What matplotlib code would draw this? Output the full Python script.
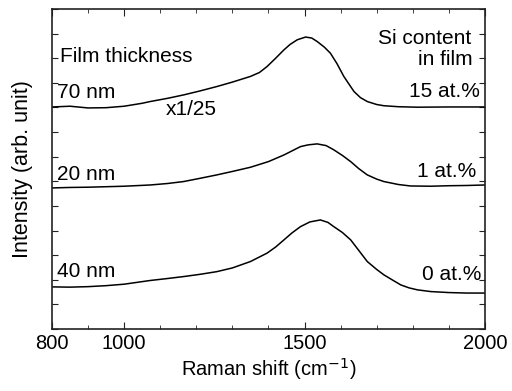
import numpy as np
import matplotlib.pyplot as plt
from matplotlib.ticker import MultipleLocator

plt.rcParams['font.family'] = ['Liberation Sans', 'DejaVu Sans']

# spectra (offset already included)
x_70 = [800, 850, 900, 950, 1000, 1050, 1072, 1120, 1165, 1210, 1257, 1300, 1350, 1375, 1396,
        1420, 1443, 1460, 1480, 1503, 1520, 1535, 1555, 1572, 1590, 1609, 1637, 1655, 1674,
        1700, 1720, 1760, 1813, 1900, 2000]
y_70 = [9.02, 9.05, 8.98, 8.99, 9.05, 9.17, 9.24, 9.37, 9.51, 9.67, 9.85, 10.03, 10.26, 10.42, 10.66,
        11.0, 11.34, 11.56, 11.75, 11.86, 11.82, 11.68, 11.45, 11.2, 10.78, 10.26, 9.65, 9.4, 9.24,
        9.12, 9.07, 9.03, 9.01, 9.02, 9.02]

x_20 = [800, 850, 900, 950, 1000, 1072, 1120, 1165, 1210, 1257, 1300, 1350, 1400, 1443,
        1470, 1489, 1510, 1535, 1560, 1581, 1605, 1628, 1650, 1674, 1700, 1720, 1760, 1794,
        1850, 1900, 1950, 2000]
y_20 = [5.73, 5.75, 5.76, 5.78, 5.8, 5.85, 5.91, 5.99, 6.12, 6.26, 6.4, 6.57, 6.8, 7.07,
        7.27, 7.41, 7.48, 7.52, 7.45, 7.28, 7.05, 6.8, 6.52, 6.26, 6.09, 5.99, 5.87, 5.81,
        5.8, 5.82, 5.83, 5.85]

x_40 = [800, 850, 900, 950, 1000, 1072, 1120, 1165, 1210, 1257, 1300, 1350, 1396, 1420,
        1443, 1465, 1489, 1515, 1544, 1565, 1581, 1605, 1628, 1650, 1674, 1700, 1720, 1745,
        1767, 1790, 1813, 1850, 1900, 1950, 2000]
y_40 = [1.71, 1.7, 1.72, 1.76, 1.82, 1.97, 2.05, 2.13, 2.22, 2.33, 2.48, 2.74, 3.08, 3.33,
        3.62, 3.9, 4.16, 4.35, 4.43, 4.33, 4.16, 3.92, 3.62, 3.2, 2.74, 2.42, 2.2, 1.98,
        1.79, 1.67, 1.59, 1.52, 1.48, 1.46, 1.46]

thickness = ["70 nm", "20 nm", "40 nm"]
si_content = ["15 at.%", "1 at.%", "0 at.%"]
label_y_left = [9.6, 6.26, 2.32]
label_y_right = [9.63, 6.38, 2.2]

fig = plt.figure(figsize=(5.12, 3.91), dpi=100)
ax = fig.add_axes([0.1016, 0.1586, 0.8454, 0.8184])

for xs, ys in [(x_70, y_70), (x_20, y_20), (x_40, y_40)]:
    ax.plot(xs, ys, color='black', lw=1.1)

ax.set_xlim(800, 2000)
ax.set_ylim(0, 13)
ax.set_xticks([800, 1000, 1500, 2000])
ax.xaxis.set_minor_locator(MultipleLocator(100))
ax.yaxis.set_major_locator(MultipleLocator(1))
ax.set_yticklabels([])
for sp in ax.spines.values():
    sp.set_linewidth(1.2)
    sp.set_color('#222222')
ax.tick_params(which='both', direction='in', top=True, right=True, labelsize=14.5, color='#222222')
ax.tick_params(which='major', length=5)
ax.tick_params(which='minor', length=3)
ax.tick_params(axis='y', which='major', length=4)

ax.set_xlabel("Raman shift (cm$^{-1}$)", fontsize=14.5, labelpad=2)
ax.set_ylabel("Intensity (arb. unit)", fontsize=15.5, labelpad=10)

fs = 15
ax.text(822, 11.06, "Film thickness", fontsize=fs, va='center')
ax.text(1114, 8.9, "x1/25", fontsize=fs, va='center')
for lab, yy in zip(thickness, label_y_left):
    ax.text(814, yy, lab, fontsize=fs, va='center')
ax.text(1961, 11.79, "Si content", fontsize=fs, va='center', ha='right')
ax.text(1967, 10.93, "in film", fontsize=fs, va='center', ha='right')
for lab, yy, xx in zip(si_content, label_y_right, [1986, 1975, 1989]):
    ax.text(xx, yy, lab, fontsize=fs, va='center', ha='right')

fig.savefig("out.png", dpi=100)
